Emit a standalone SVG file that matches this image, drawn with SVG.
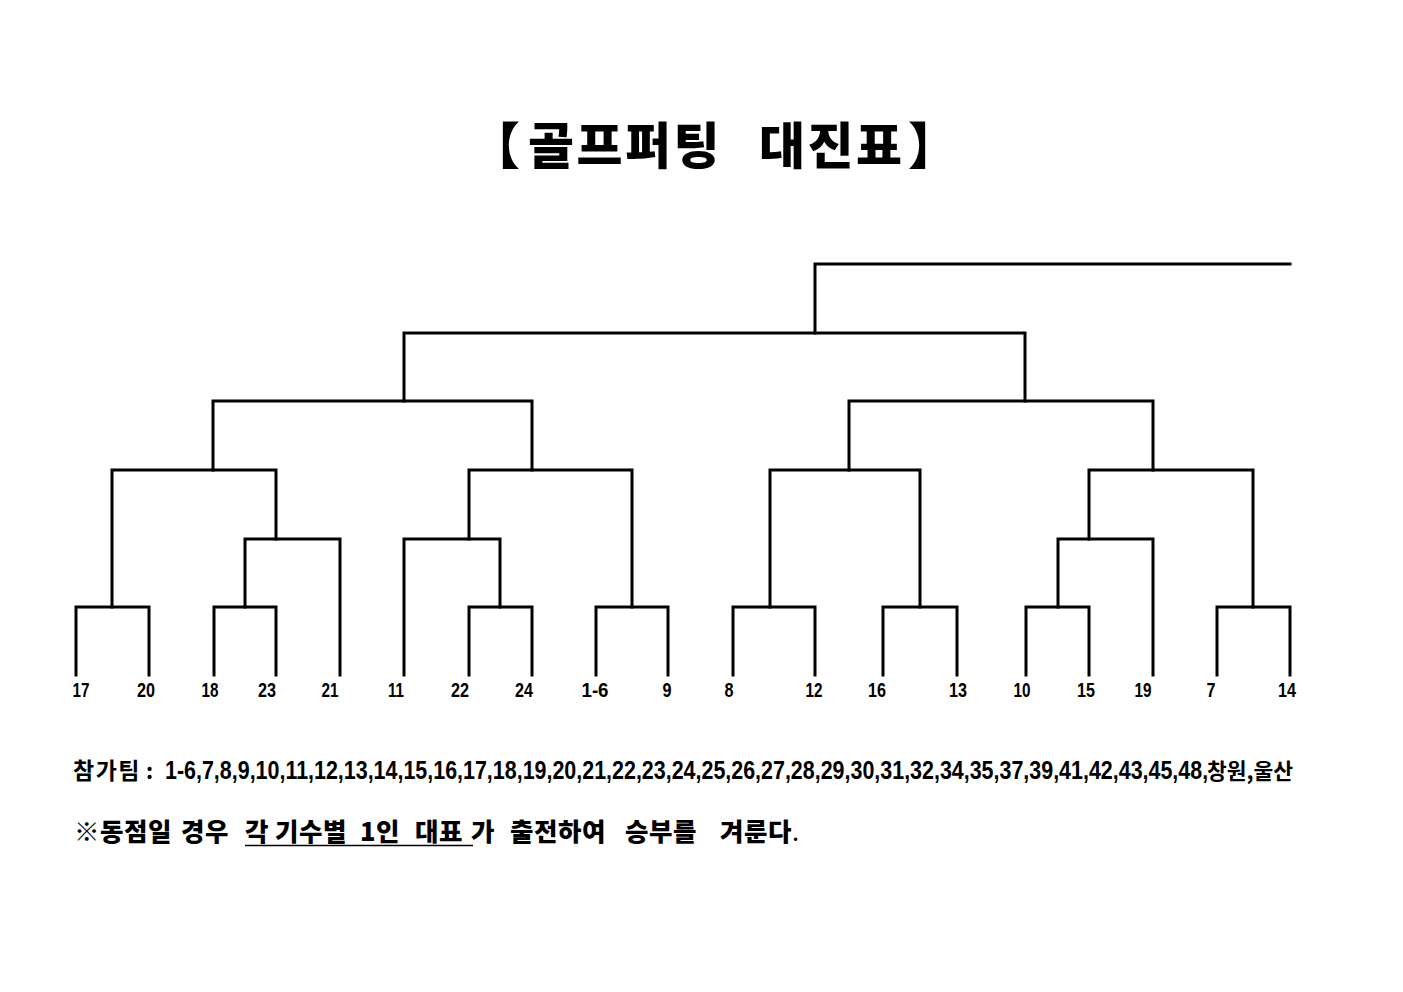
<svg xmlns="http://www.w3.org/2000/svg" width="1403" height="992" viewBox="0 0 1403 992">
<style>
.ln{fill:none;stroke:#000;stroke-width:3;stroke-linecap:square;stroke-linejoin:miter}
.lbl{font-family:"Liberation Sans",Arial,sans-serif;font-weight:bold;font-size:21px;fill:#000;text-anchor:middle}
.ko{font-family:"Noto Sans CJK KR","Noto Sans CJK SC",sans-serif;font-weight:bold;fill:#000}
.hv{font-weight:900}
.num{font-family:"Liberation Sans",Arial,sans-serif;font-weight:bold;fill:#000}
</style>
<rect width="1403" height="992" fill="#fff"/>
<g id="title">
<text class="ko hv" font-size="50" y="164" letter-spacing="2.5"><tspan x="470">【</tspan><tspan x="528">골프퍼팅</tspan><tspan x="759">대진표</tspan><tspan x="908">】</tspan></text>
</g>
<g id="connectors">
<path class="ln" d="M76 675 V607 H149 V675"/>
<path class="ln" d="M214 675 V607 H276 V675"/>
<path class="ln" d="M245 607 V539 H340 V675"/>
<path class="ln" d="M112 607 V470 H276 V539"/>
<path class="ln" d="M404 675 V539 H500 V607"/>
<path class="ln" d="M469 675 V607 H532 V675"/>
<path class="ln" d="M596 675 V607 H668 V675"/>
<path class="ln" d="M469 539 V470 H632 V607"/>
<path class="ln" d="M213 470 V401 H532 V470"/>
<path class="ln" d="M733 675 V607 H815 V675"/>
<path class="ln" d="M883 675 V607 H957 V675"/>
<path class="ln" d="M770 607 V470 H920 V607"/>
<path class="ln" d="M1026 675 V607 H1089 V675"/>
<path class="ln" d="M1058 607 V539 H1153 V675"/>
<path class="ln" d="M1217 675 V607 H1290 V675"/>
<path class="ln" d="M1089 539 V470 H1253 V607"/>
<path class="ln" d="M849 470 V401 H1153 V470"/>
<path class="ln" d="M404 401 V333 H1025 V401"/>
<path class="ln" d="M815 333 V264 H1290"/>
</g>
<g id="leaf-17"><text class="lbl" x="81" y="697" textLength="17" lengthAdjust="spacingAndGlyphs">17</text></g>
<g id="leaf-20"><text class="lbl" x="146" y="697" textLength="18" lengthAdjust="spacingAndGlyphs">20</text></g>
<g id="leaf-18"><text class="lbl" x="210" y="697" textLength="17" lengthAdjust="spacingAndGlyphs">18</text></g>
<g id="leaf-23"><text class="lbl" x="267" y="697" textLength="18" lengthAdjust="spacingAndGlyphs">23</text></g>
<g id="leaf-21"><text class="lbl" x="330" y="697" textLength="17" lengthAdjust="spacingAndGlyphs">21</text></g>
<g id="leaf-11"><text class="lbl" x="396" y="697" textLength="16" lengthAdjust="spacingAndGlyphs">11</text></g>
<g id="leaf-22"><text class="lbl" x="460" y="697" textLength="18" lengthAdjust="spacingAndGlyphs">22</text></g>
<g id="leaf-24"><text class="lbl" x="524" y="697" textLength="18" lengthAdjust="spacingAndGlyphs">24</text></g>
<g id="leaf-1-6"><text class="lbl" x="595" y="697" textLength="27" lengthAdjust="spacingAndGlyphs">1-6</text></g>
<g id="leaf-9"><text class="lbl" x="667" y="697" textLength="9" lengthAdjust="spacingAndGlyphs">9</text></g>
<g id="leaf-8"><text class="lbl" x="729" y="697" textLength="9" lengthAdjust="spacingAndGlyphs">8</text></g>
<g id="leaf-12"><text class="lbl" x="814" y="697" textLength="17" lengthAdjust="spacingAndGlyphs">12</text></g>
<g id="leaf-16"><text class="lbl" x="877" y="697" textLength="18" lengthAdjust="spacingAndGlyphs">16</text></g>
<g id="leaf-13"><text class="lbl" x="958" y="697" textLength="18" lengthAdjust="spacingAndGlyphs">13</text></g>
<g id="leaf-10"><text class="lbl" x="1022" y="697" textLength="17" lengthAdjust="spacingAndGlyphs">10</text></g>
<g id="leaf-15"><text class="lbl" x="1086" y="697" textLength="18" lengthAdjust="spacingAndGlyphs">15</text></g>
<g id="leaf-19"><text class="lbl" x="1143" y="697" textLength="17" lengthAdjust="spacingAndGlyphs">19</text></g>
<g id="leaf-7"><text class="lbl" x="1211" y="697" textLength="9" lengthAdjust="spacingAndGlyphs">7</text></g>
<g id="leaf-14"><text class="lbl" x="1287" y="697" textLength="18" lengthAdjust="spacingAndGlyphs">14</text></g>
<g id="participants">
<text class="ko" font-size="23" x="73" y="779" letter-spacing="1.5">참가팀</text>
<text class="ko" font-size="22" x="146" y="779">:</text>
<text class="num" font-size="25" transform="translate(165 779) scale(0.858 1)">1-6,7,8,9,10,11,12,13,14,15,16,17,18,19,20,21,22,23,24,25,26,27,28,29,30,31,32,34,35,37,39,41,42,43,45,48,</text>
<text class="ko" font-size="21.5" x="1207" y="779">창원,울산</text>
</g>
<g id="note">
<text class="ko hv" font-size="25.5" y="841" letter-spacing="0.5"><tspan x="74">※동점일</tspan><tspan x="181">경우</tspan><tspan x="245">각</tspan><tspan x="275">기수별</tspan><tspan x="360">1인</tspan><tspan x="415">대표</tspan><tspan x="471">가</tspan><tspan x="510">출전하여</tspan><tspan x="625">승부를</tspan><tspan x="720">겨룬다</tspan><tspan font-weight="normal">.</tspan></text>
<line x1="245" y1="845.5" x2="473" y2="845.5" stroke="#000" stroke-width="1.5"/>
</g>
</svg>
